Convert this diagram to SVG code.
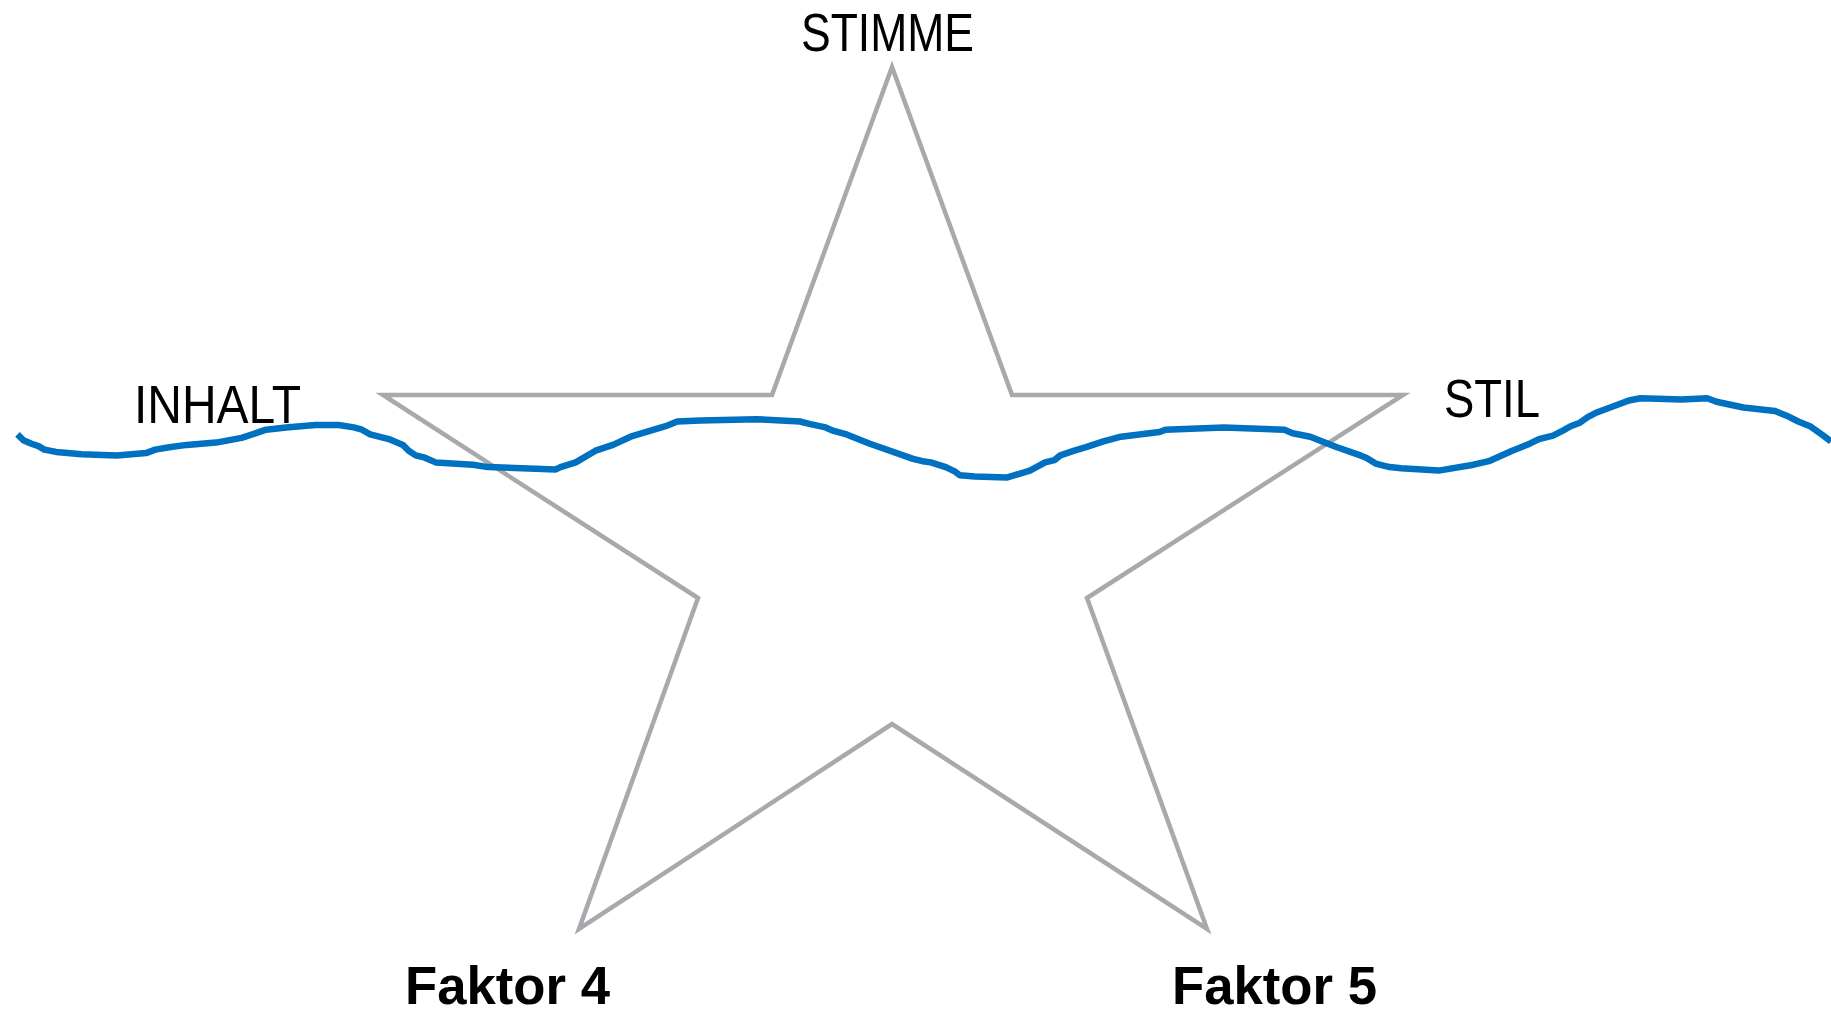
<svg xmlns="http://www.w3.org/2000/svg" width="1831" height="1015" viewBox="0 0 1831 1015">
<style>
.star{fill:none;stroke:#a7a9ac;stroke-width:4.5;stroke-linejoin:miter}
.wave{fill:none;stroke:#0070c0;stroke-width:6.5;stroke-linejoin:round;stroke-linecap:butt}
.lbl{font-family:"Liberation Sans",Arial,sans-serif;font-size:53px;fill:#000}
.bold{font-family:"Liberation Sans",Arial,sans-serif;font-size:53px;font-weight:bold;fill:#000}
</style>
<rect width="1831" height="1015" fill="#fff"/>
<g id="star">
<polygon class="star" points="892,67 1012,395 1403,395 1087,598 1207,929 892,724 579,929 698,598 383,395 772,395"/>
</g>
<g id="connectors">
<polyline class="wave" points="17.5,434.4 23.4,440.2 31.5,443.7 38.5,446.1 44.4,449.6 56.1,451.9 81.7,454.2 116.8,455.4 146,453.1 155.3,449.6 169.3,447.2 186.8,444.9 216,442.6 241.7,437.9 266.2,429.7 286.1,427.4 315.3,425 338.6,425 353.8,427.4 362,429.7 370.2,434.4 388.8,439.1 402.9,444.9 408.7,450.7 415.7,455.4 425,457.7 435.6,462.4 472.9,464.7 488.1,467.1 555.8,469.4 560.5,467.1 575.7,462.4 595.5,450.7 613,444.9 630.6,436.7 665.6,426.2 677.3,421.5 700.6,420.4 756.7,419.2 799.9,421.5 809.2,423.9 825.6,427.4 833.7,430.9 846.6,434.4 869.9,443.7 913.1,458.9 922.5,461.2 930.7,462.4 945.8,467.1 955.2,471.7 959.8,475.3 975,476.4 1006.6,477.6 1029.9,470.6 1045.1,462.4 1054.4,460.1 1060.3,455.4 1074.3,450.7 1086,447.2 1103.5,441.4 1121,436.7 1159.5,432 1165.4,429.7 1223.7,427.4 1284.5,429.7 1292.6,433.2 1310.2,436.7 1337,447.2 1360.4,455.4 1366.2,457.7 1375.6,463.6 1389.6,467.1 1401.2,468.2 1438.6,470.6 1473.6,464.7 1488.8,461.2 1512.2,450.7 1529.7,443.7 1539,439.1 1553,435.6 1562.4,430.9 1570.6,426.2 1579.9,422.7 1588.1,416.9 1597.4,412.2 1628.9,400.5 1640.6,398.2 1681.5,399.4 1707.2,398.2 1716.5,401.7 1743.4,407.5 1774.9,411 1786.6,415.7 1798.3,421.5 1810,426.2 1821.6,434.4 1831,441.4"/>
</g>
<g id="label-stimme"><text class="lbl" x="801" y="51" textLength="173" lengthAdjust="spacingAndGlyphs">STIMME</text></g>
<g id="label-inhalt"><text class="lbl" x="134" y="423" textLength="167" lengthAdjust="spacingAndGlyphs">INHALT</text></g>
<g id="label-stil"><text class="lbl" x="1444" y="417" textLength="96" lengthAdjust="spacingAndGlyphs">STIL</text></g>
<g id="label-faktor4"><text class="bold" x="405" y="1004" textLength="205" lengthAdjust="spacingAndGlyphs">Faktor 4</text></g>
<g id="label-faktor5"><text class="bold" x="1172" y="1004" textLength="205" lengthAdjust="spacingAndGlyphs">Faktor 5</text></g>
</svg>
